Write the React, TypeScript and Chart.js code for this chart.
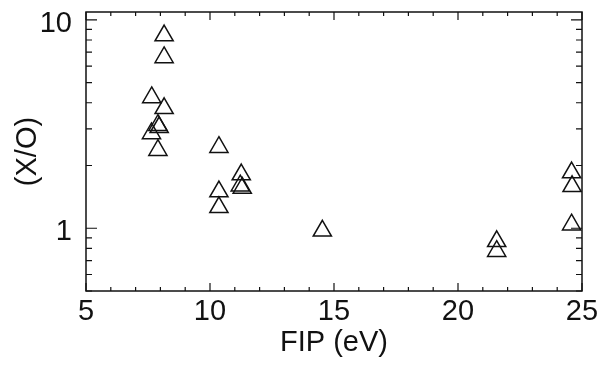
import React, { useEffect, useRef } from "react";
import { Chart, registerables } from "chart.js";

Chart.register(...registerables);

const fipValues = [8.15, 8.15, 7.65, 8.15, 7.9, 7.95, 7.64, 7.9, 10.36, 11.26, 11.22, 11.3, 10.36, 10.36, 14.53, 21.56, 21.56, 24.58, 24.6, 24.58];
const ratioValues = [8.4, 6.6, 4.24, 3.76, 3.12, 3.05, 2.85, 2.37, 2.45, 1.81, 1.6, 1.56, 1.5, 1.26, 0.972, 0.866, 0.776, 1.85, 1.59, 1.04];
const xTickLabels = [5, 10, 15, 20, 25];
const yTickLabels = [1, 10];
const yMinorTicks = [0.5, 0.6, 0.7, 0.8, 0.9, 2, 3, 4, 5, 6, 7, 8, 9];
const xMinorTicks = [6, 7, 8, 9, 11, 12, 13, 14, 16, 17, 18, 19, 21, 22, 23, 24];

const FONT = "'Liberation Sans', Arial, Helvetica, sans-serif";
const FS = 29;

const framePlugin = {
  id: "frame",
  afterDraw(chart: any) {
    const { ctx, chartArea } = chart;
    const xs = chart.scales.x;
    const ys = chart.scales.y;
    const { left, right, top, bottom } = chartArea;
    ctx.save();
    ctx.strokeStyle = "#111";
    ctx.lineWidth = 1.5;
    ctx.strokeRect(left, top, right - left, bottom - top);
    ctx.lineWidth = 1.2;
    ctx.beginPath();
    const xt = (v: number, len: number) => {
      const p = xs.getPixelForValue(v);
      ctx.moveTo(p, bottom);
      ctx.lineTo(p, bottom - len);
      ctx.moveTo(p, top);
      ctx.lineTo(p, top + len);
    };
    const yt = (v: number, len: number) => {
      const p = ys.getPixelForValue(v);
      ctx.moveTo(left, p);
      ctx.lineTo(left + len, p);
      ctx.moveTo(right, p);
      ctx.lineTo(right - len, p);
    };
    xTickLabels.forEach((v) => xt(v, 8));
    xMinorTicks.forEach((v) => xt(v, 4));
    yTickLabels.forEach((v) => yt(v, 11));
    yMinorTicks.forEach((v) => yt(v, 6));
    ctx.stroke();
    ctx.restore();
  },
};

export default function App() {
  const ref = useRef<HTMLCanvasElement>(null);
  useEffect(() => {
    if (!ref.current) return;
    const points = fipValues.map((x, i) => ({ x, y: ratioValues[i] }));
    const chart = new Chart(ref.current, {
      type: "scatter",
      data: {
        datasets: [
          {
            data: points,
            pointStyle: "triangle",
            pointRadius: 10.5,
            pointHoverRadius: 10.5,
            borderColor: "#111",
            backgroundColor: "rgba(0,0,0,0)",
            pointBorderWidth: 1.5,
          },
        ],
      },
      options: {
        responsive: false,
        animation: false,
        layout: { padding: { top: 6, right: 18, left: 0, bottom: 0 } },
        plugins: { legend: { display: false }, tooltip: { enabled: false } },
        scales: {
          x: {
            type: "linear",
            min: 5,
            max: 25,
            afterBuildTicks: (s: any) => {
              s.ticks = xTickLabels.map((v) => ({ value: v }));
            },
            afterFit: (s: any) => {
              s.height = 76;
              s.paddingLeft = 0;
              s.paddingRight = 0;
              s.paddingTop = 0;
              s.paddingBottom = 0;
            },
            grid: { display: false, drawTicks: false },
            border: { display: false },
            ticks: {
              color: "#111",
              font: { family: FONT, size: FS },
              padding: 4,
              maxRotation: 0,
              callback: (v: any) => String(v),
            },
            title: {
              display: true,
              text: "FIP (eV)",
              color: "#111",
              font: { family: FONT, size: FS },
              padding: { top: 0, bottom: 7 },
            },
          },
          y: {
            type: "logarithmic",
            min: 0.5,
            max: 10.9,
            afterBuildTicks: (s: any) => {
              s.ticks = yTickLabels.map((v) => ({ value: v }));
            },
            afterFit: (s: any) => {
              s.width = 86;
              s.paddingTop = 0;
              s.paddingBottom = 0;
              s.paddingLeft = 0;
              s.paddingRight = 0;
            },
            grid: { display: false, drawTicks: false },
            border: { display: false },
            ticks: {
              color: "#111",
              font: { family: FONT, size: FS },
              padding: 14,
              labelOffset: 4,
              callback: (v: any) => String(v),
            },
            title: {
              display: true,
              text: "(X/O)",
              color: "#111",
              font: { family: FONT, size: FS },
              padding: { top: 11, bottom: 0 },
            },
          },
        },
      },
      plugins: [framePlugin],
    });
    return () => chart.destroy();
  }, []);
  return (
    <div style={{ position: "fixed", left: 0, top: 0, width: 600, height: 367, background: "#fff" }}>
      <canvas ref={ref} width={600} height={367} />
    </div>
  );
}
